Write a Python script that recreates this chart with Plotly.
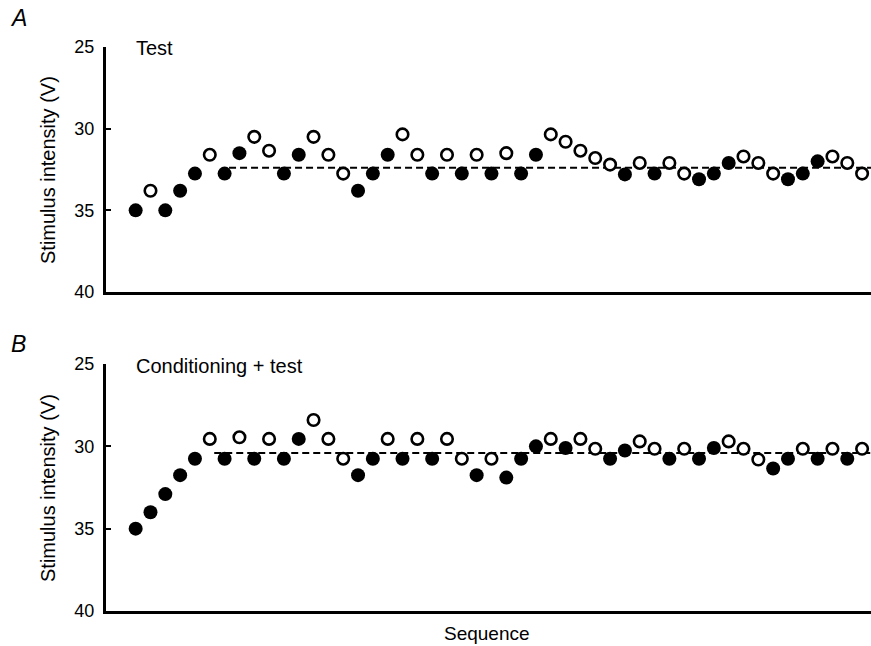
import plotly.graph_objects as go

# ---------------- data ----------------
sequence = list(range(1, 51))

# Panel A: Test
a_values = [35.0, 33.8, 35.0, 33.8, 32.75, 31.6, 32.75, 31.5, 30.5, 31.35,
            32.75, 31.6, 30.5, 31.6, 32.75, 33.8, 32.75, 31.6, 30.35, 31.6,
            32.75, 31.6, 32.75, 31.6, 32.75, 31.5, 32.75, 31.6, 30.35, 30.8,
            31.35, 31.8, 32.2, 32.8, 32.1, 32.75, 32.1, 32.75, 33.1, 32.75,
            32.1, 31.7, 32.1, 32.75, 33.1, 32.75, 32.0, 31.7, 32.1, 32.75]
a_filled = [1, 0, 1, 1, 1, 0, 1, 1, 0, 0,
            1, 1, 0, 0, 0, 1, 1, 1, 0, 0,
            1, 0, 1, 0, 1, 0, 1, 1, 0, 0,
            0, 0, 0, 1, 0, 1, 0, 0, 1, 1,
            1, 0, 0, 0, 1, 1, 1, 0, 0, 0]
a_threshold = 32.4
a_line_x = [7.3, 50.6]

# Panel B: Conditioning + test
b_values = [35.0, 34.0, 32.9, 31.75, 30.75, 29.55, 30.75, 29.45, 30.75, 29.55,
            30.75, 29.55, 28.4, 29.55, 30.75, 31.75, 30.75, 29.55, 30.75, 29.55,
            30.75, 29.55, 30.75, 31.75, 30.75, 31.9, 30.75, 30.0, 29.55, 30.1,
            29.55, 30.15, 30.75, 30.25, 29.7, 30.15, 30.75, 30.15, 30.75, 30.1,
            29.7, 30.15, 30.8, 31.35, 30.75, 30.15, 30.75, 30.15, 30.75, 30.15]
b_filled = [1, 1, 1, 1, 1, 0, 1, 0, 1, 0,
            1, 1, 0, 0, 0, 1, 1, 0, 1, 0,
            1, 0, 0, 1, 0, 1, 1, 1, 0, 1,
            0, 0, 1, 1, 0, 0, 1, 0, 1, 1,
            0, 0, 0, 1, 1, 0, 1, 0, 1, 0]
b_threshold = 30.4
b_line_x = [6.3, 50.6]

y_ticks = [25, 30, 35, 40]
x_range = [-1.0, 50.6]

FONT = "Liberation Sans, Arial, Helvetica, sans-serif"

fig = go.Figure()


def add_panel(values, filled, threshold, line_x, xa, ya):
    fig.add_trace(go.Scatter(
        x=line_x, y=[threshold, threshold], mode="lines",
        line=dict(color="black", width=2, dash="7px,4px"),
        xaxis=xa, yaxis=ya, showlegend=False, hoverinfo="skip"))
    xf = [s for s, f in zip(sequence, filled) if f]
    yf = [v for v, f in zip(values, filled) if f]
    xo = [s for s, f in zip(sequence, filled) if not f]
    yo = [v for v, f in zip(values, filled) if not f]
    fig.add_trace(go.Scatter(
        x=xo, y=yo, mode="markers",
        marker=dict(symbol="circle", size=11.5, color="white",
                    line=dict(color="black", width=2.6)),
        xaxis=xa, yaxis=ya, showlegend=False))
    fig.add_trace(go.Scatter(
        x=xf, y=yf, mode="markers",
        marker=dict(symbol="circle", size=14, color="black",
                    line=dict(color="black", width=0)),
        xaxis=xa, yaxis=ya, showlegend=False))


add_panel(a_values, a_filled, a_threshold, a_line_x, "x", "y")
add_panel(b_values, b_filled, b_threshold, b_line_x, "x2", "y2")

H = 646.0
dom_a = [(H - 292) / H, (H - 47) / H]
dom_b = [(H - 611) / H, (H - 364) / H]

yaxis_common = dict(
    range=[40, 25], tickvals=y_ticks, ticktext=[str(t) for t in y_ticks],
    showline=True, linecolor="black", linewidth=3, ticks="inside",
    ticklen=5, tickwidth=2, tickcolor="black", showgrid=False, zeroline=False,
    tickfont=dict(family=FONT, size=18, color="black"), ticklabelstandoff=5)
xaxis_common = dict(
    range=x_range, showline=True, linecolor="black", linewidth=3,
    showticklabels=False, ticks="", showgrid=False, zeroline=False)

fig.update_layout(
    width=871, height=646,
    margin=dict(l=106, r=0, t=0, b=0, autoexpand=False),
    plot_bgcolor="white", paper_bgcolor="white",
    xaxis=dict(domain=[0, 1], anchor="y", **xaxis_common),
    yaxis=dict(domain=dom_a, anchor="x", **yaxis_common),
    xaxis2=dict(domain=[0, 1], anchor="y2", **xaxis_common),
    yaxis2=dict(domain=dom_b, anchor="x2", **yaxis_common),
)

W = 871 - 106.0


def px_x(p):
    return (p - 106) / W


def px_y(p):
    return (H - p) / H


ann = [
    dict(text="<i>A</i>", x=px_x(18), y=px_y(18), size=23),
    dict(text="<i>B</i>", x=px_x(18), y=px_y(344), size=23),
    dict(text="Stimulus intensity (V)", x=px_x(48), y=px_y(170), size=20, angle=-90),
    dict(text="Stimulus intensity (V)", x=px_x(48), y=px_y(488), size=20, angle=-90),
    dict(text="Sequence", x=px_x(487), y=px_y(633), size=19),
]
for a in ann:
    fig.add_annotation(text=a["text"], x=a["x"], y=a["y"], xref="paper", yref="paper",
                       xanchor="center", yanchor="middle", showarrow=False,
                       textangle=a.get("angle", 0),
                       font=dict(family=FONT, size=a["size"], color="black"))

for txt, y in [("Test", 48), ("Conditioning + test", 366)]:
    fig.add_annotation(text=txt, x=px_x(134), y=px_y(y), xref="paper", yref="paper",
                       xanchor="left", yanchor="middle", showarrow=False,
                       font=dict(family=FONT, size=20, color="black"))

fig.write_html("out.html")
